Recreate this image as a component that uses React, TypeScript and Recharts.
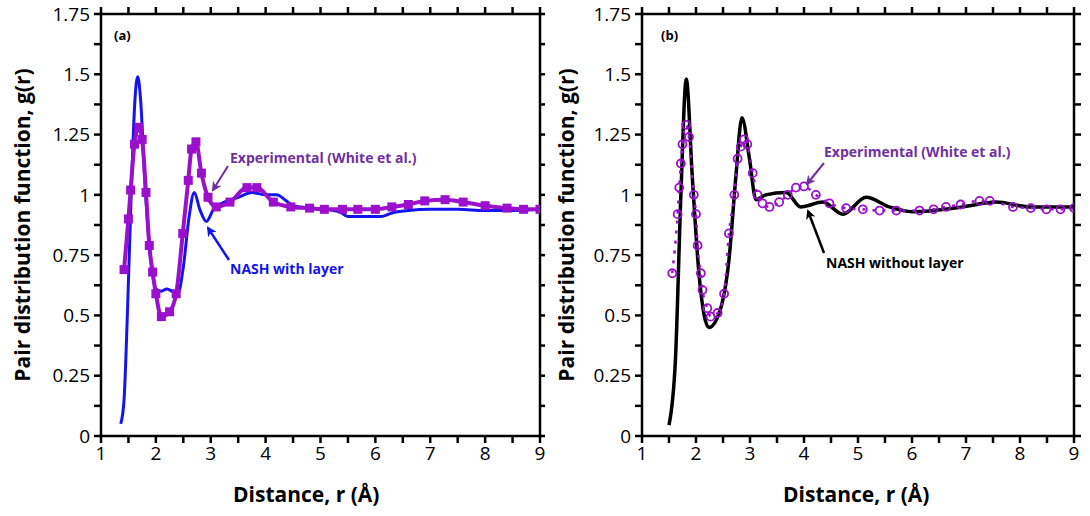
import React from "react";
import { LineChart, Line, XAxis, YAxis } from "recharts";

// panel (a): simulated NASH with layer
const withLayerR = [1.36, 1.42, 1.48, 1.55, 1.62, 1.67, 1.72, 1.8, 1.9, 2.0, 2.1, 2.2, 2.3, 2.4, 2.5, 2.6, 2.7, 2.8, 2.92, 3.05, 3.25, 3.5, 3.75, 4.0, 4.2, 4.35, 4.5, 4.8, 5.1, 5.35, 5.5, 5.8, 6.1, 6.3, 6.6, 7.0, 7.5, 8.0, 8.5, 9.0];
const withLayerG = [0.05, 0.15, 0.5, 1.0, 1.4, 1.49, 1.4, 1.05, 0.75, 0.61, 0.6, 0.61, 0.6, 0.59, 0.7, 0.9, 1.01, 0.94, 0.89, 0.94, 0.97, 0.99, 1.01, 1.0, 1.0, 0.98, 0.955, 0.945, 0.94, 0.93, 0.91, 0.91, 0.91, 0.925, 0.935, 0.94, 0.94, 0.935, 0.935, 0.94];

// panel (a): experimental, square markers
const expAR = [1.42, 1.5, 1.54, 1.61, 1.69, 1.75, 1.82, 1.88, 1.94, 2.0, 2.1, 2.25, 2.37, 2.49, 2.59, 2.65, 2.73, 2.83, 2.95, 3.1, 3.35, 3.66, 3.84, 4.14, 4.46, 4.8, 5.07, 5.4, 5.68, 6.0, 6.3, 6.6, 6.9, 7.27, 7.6, 8.0, 8.4, 8.7, 9.0];
const expAG = [0.69, 0.9, 1.02, 1.21, 1.28, 1.23, 1.01, 0.79, 0.68, 0.59, 0.495, 0.515, 0.59, 0.84, 1.06, 1.19, 1.22, 1.09, 0.99, 0.95, 0.97, 1.03, 1.03, 0.97, 0.95, 0.945, 0.94, 0.94, 0.94, 0.94, 0.95, 0.96, 0.975, 0.98, 0.97, 0.955, 0.945, 0.94, 0.94];

// panel (b): simulated NASH without layer
const noLayerR = [1.5, 1.62, 1.72, 1.82, 1.93, 2.06, 2.24, 2.43, 2.61, 2.74, 2.85, 2.99, 3.11, 3.29, 3.67, 3.94, 4.35, 4.72, 5.15, 5.58, 6.01, 6.94, 7.56, 8.18, 9.0];
const noLayerG = [0.045, 0.32, 1.0, 1.48, 1.08, 0.66, 0.45, 0.51, 0.73, 1.08, 1.32, 1.15, 0.98, 1.0, 1.01, 0.95, 0.97, 0.92, 0.99, 0.95, 0.93, 0.95, 0.97, 0.95, 0.95];

// panel (b): experimental, open circles
const expBR = [1.56, 1.66, 1.69, 1.72, 1.75, 1.82, 1.87, 1.96, 2.0, 2.03, 2.09, 2.12, 2.21, 2.27, 2.4, 2.52, 2.61, 2.71, 2.77, 2.83, 2.89, 2.95, 3.05, 3.14, 3.23, 3.36, 3.54, 3.7, 3.85, 4.0, 4.22, 4.47, 4.78, 5.09, 5.4, 5.71, 6.14, 6.4, 6.63, 6.9, 7.25, 7.44, 7.87, 8.2, 8.49, 8.75, 9.0];
const expBG = [0.675, 0.92, 1.03, 1.13, 1.21, 1.29, 1.24, 1.0, 0.92, 0.79, 0.675, 0.605, 0.53, 0.495, 0.51, 0.59, 0.84, 1.0, 1.15, 1.2, 1.23, 1.21, 1.09, 1.0, 0.965, 0.95, 0.97, 1.0, 1.03, 1.035, 1.0, 0.965, 0.945, 0.94, 0.935, 0.935, 0.935, 0.94, 0.95, 0.96, 0.975, 0.975, 0.95, 0.945, 0.94, 0.94, 0.945];

// ticks every half unit / eighth, labels only on majors
const xTicks = [1, 1.5, 2, 2.5, 3, 3.5, 4, 4.5, 5, 5.5, 6, 6.5, 7, 7.5, 8, 8.5, 9];
const yTicks = [0, 0.125, 0.25, 0.375, 0.5, 0.625, 0.75, 0.875, 1, 1.125, 1.25, 1.375, 1.5, 1.625, 1.75];

const FONT = "'Open Sans', sans-serif";
const BLUE = "#1414ee";
const PURPLE = "#9a10cc";
const ANNOT = "#7030a0";

const zip = (r: number[], g: number[]) => r.map((x, i) => ({ r: x, g: g[i] }));
const blank = () => "";
const isMajor = (v: number, step: number) => Math.abs(v / step - Math.round(v / step)) < 1e-6;
const tickStyle = { fontSize: 19, fontFamily: FONT, fill: "#000" };

const squareDot = (p: any) => (
  <rect key={p.index} x={p.cx - 4.5} y={p.cy - 4.5} width={9} height={9} fill={PURPLE} />
);
const circleDot = (p: any) => (
  <circle key={p.index} cx={p.cx} cy={p.cy} r={4} fill="none" stroke={PURPLE} strokeWidth={1.8} />
);

function Panel(props: { left: number; marginLeft: number; marginRight: number; data: any[]; children: React.ReactNode }) {
  return (
    <div style={{ position: "absolute", left: props.left, top: 0 }}>
      <LineChart width={545} height={516} data={props.data} margin={{ top: 13, right: props.marginRight, bottom: 50, left: props.marginLeft }}>
        <XAxis xAxisId="b" dataKey="r" type="number" domain={[1, 9]} ticks={xTicks} interval={0} allowDataOverflow
          stroke="#000" strokeWidth={2.5} tickSize={7} tickMargin={4} height={30} tick={tickStyle}
          tickFormatter={(v: number) => (isMajor(v, 1) ? String(v) : "")} />
        <XAxis xAxisId="t" orientation="top" dataKey="r" type="number" domain={[1, 9]} ticks={xTicks} interval={0} allowDataOverflow
          stroke="#000" strokeWidth={2.5} tickSize={7} height={1} tick={tickStyle} tickFormatter={blank} />
        <YAxis yAxisId="l" type="number" domain={[0, 1.75]} ticks={yTicks} interval={0} allowDataOverflow
          stroke="#000" strokeWidth={2.5} tickSize={7} tickMargin={4} width={50} tick={tickStyle}
          tickFormatter={(v: number) => (isMajor(v, 0.25) ? String(v) : "")} />
        <YAxis yAxisId="r" orientation="right" type="number" domain={[0, 1.75]} ticks={yTicks} interval={0} allowDataOverflow
          stroke="#000" strokeWidth={2.5} tickSize={7} width={1} tick={tickStyle} tickFormatter={blank} />
        {props.children}
      </LineChart>
    </div>
  );
}

const txt = (x: number, y: number, s: string, color: string, size = 14, rotate = false): React.ReactNode => (
  <div style={{
    position: "absolute", left: x, top: y, color, fontFamily: FONT, fontWeight: 700, fontSize: size, whiteSpace: "nowrap",
    transform: rotate ? "translate(-50%,-50%) rotate(-90deg)" : undefined,
  }}>{s}</div>
);

export default function App() {
  const a1 = zip(withLayerR, withLayerG);
  const b1 = zip(noLayerR, noLayerG);
  return (
    <div style={{ position: "absolute", left: 0, top: 0, width: 1090, height: 516, background: "#fff", overflow: "hidden" }}>
      <Panel left={0} marginLeft={51} marginRight={4} data={a1}>
        <Line xAxisId="b" yAxisId="l" data={a1} dataKey="g" type="monotone" stroke={BLUE} strokeWidth={3} dot={false} isAnimationActive={false} />
        <Line xAxisId="b" yAxisId="l" data={zip(expAR, expAG)} dataKey="g" type="monotone" stroke={PURPLE} strokeWidth={4} dot={squareDot} isAnimationActive={false} />
      </Panel>
      <Panel left={545} marginLeft={47} marginRight={15} data={b1}>
        <Line xAxisId="b" yAxisId="l" data={b1} dataKey="g" type="monotone" stroke="#000" strokeWidth={3.5} dot={false} isAnimationActive={false} />
        <Line xAxisId="b" yAxisId="l" data={zip(expBR, expBG)} dataKey="g" type="monotone" stroke={PURPLE} strokeWidth={2.5} strokeDasharray="3 7"
          dot={circleDot} isAnimationActive={false} />
      </Panel>

      <svg width={1090} height={516} style={{ position: "absolute", left: 0, top: 0, pointerEvents: "none" }}>
        <defs>
          {[["ap", ANNOT], ["ab", BLUE], ["ak", "#000"]].map(([id, c]) => (
            <marker key={id} id={id} markerUnits="userSpaceOnUse" markerWidth="10" markerHeight="10" refX="8" refY="5" orient="auto">
              <path d="M0,0 L10,5 L0,10 L3,5 z" fill={c} />
            </marker>
          ))}
        </defs>
        <line x1={228} y1={166} x2={213} y2={190} stroke={ANNOT} strokeWidth={2} markerEnd="url(#ap)" />
        <line x1={229} y1={260} x2={208} y2={228} stroke={BLUE} strokeWidth={2.5} markerEnd="url(#ab)" />
        <line x1={824} y1={163} x2={807} y2={184} stroke={ANNOT} strokeWidth={2} markerEnd="url(#ap)" />
        <line x1={824} y1={253} x2={808} y2={211} stroke="#000" strokeWidth={2.5} markerEnd="url(#ak)" />
      </svg>

      {txt(230, 148, "Experimental (White et al.)", ANNOT, 14)}
      {txt(230, 259, "NASH with layer", BLUE, 14)}
      {txt(824, 142, "Experimental (White et al.)", ANNOT, 14)}
      {txt(826, 253, "NASH without layer", "#000", 14)}
      {txt(114, 26, "(a)", "#000", 13)}
      {txt(661, 26, "(b)", "#000", 13)}
      {txt(233, 480, "Distance, r (Å)", "#000", 21)}
      {txt(783, 480, "Distance, r (Å)", "#000", 21)}
      <div style={{ position: "absolute", left: 22, top: 225 }}>{txt(0, 0, "Pair distribution function, g(r)", "#000", 21, true)}</div>
      <div style={{ position: "absolute", left: 566, top: 225 }}>{txt(0, 0, "Pair distribution function, g(r)", "#000", 21, true)}</div>
    </div>
  );
}
